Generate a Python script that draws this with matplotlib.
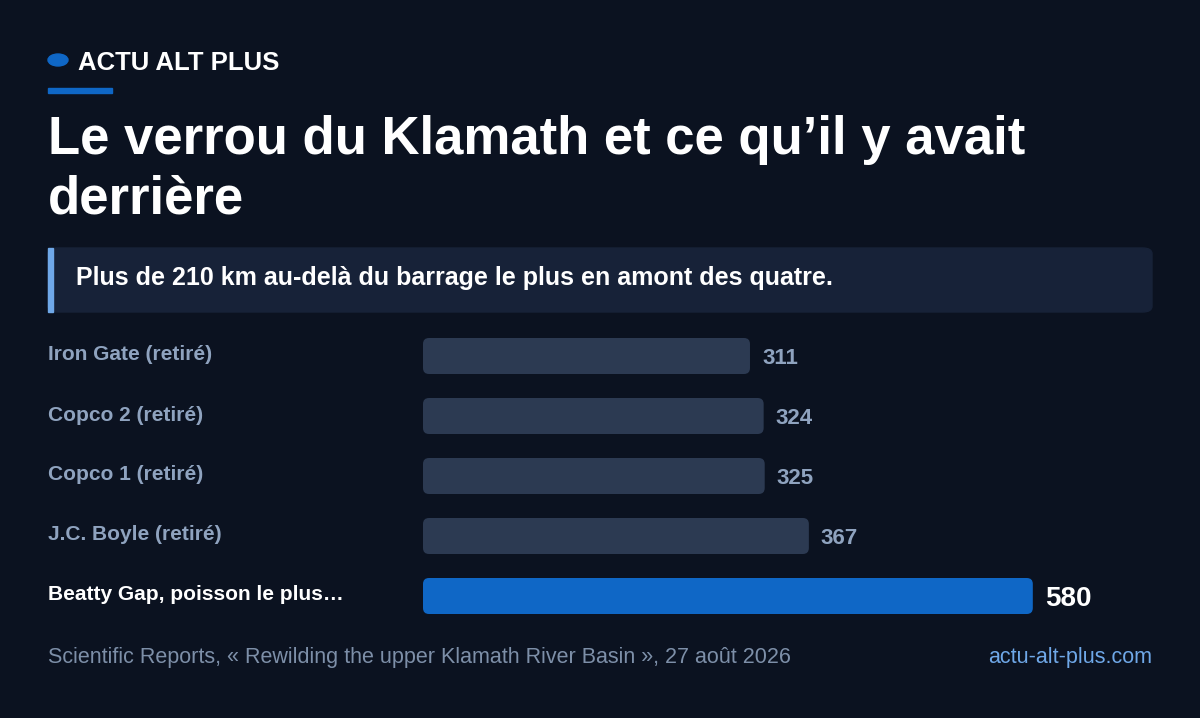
import matplotlib
matplotlib.use("Agg")
import matplotlib.pyplot as plt
from matplotlib.patches import FancyBboxPatch, Rectangle, Circle

plt.rcParams['font.family'] = ['Liberation Sans', 'DejaVu Sans']

labels = ["Iron Gate (retiré)", "Copco 2 (retiré)", "Copco 1 (retiré)",
          "J.C. Boyle (retiré)", "Beatty Gap, poisson le plus\u2026"]
values = [311, 324, 325, 367, 580]
highlight = [False, False, False, False, True]

W, H = 1200, 718
BG = "#0b1220"
fig = plt.figure(figsize=(W / 100, H / 100), dpi=100, facecolor=BG)

def fx(px):
    return px / W

def fy(py):
    return 1 - py / H

# header
fig.patches.append(Circle((fx(58), fy(60)), 10 / W, transform=fig.transFigure,
                          color="#0f67c6"))
fig.patches[-1].set_transform(fig.transFigure)
fig.text(fx(78), fy(63), "ACTU ALT PLUS", color="white", fontsize=18.5,
         fontweight="bold", va="center")
fig.patches.append(Rectangle((fx(48), fy(93)), 64 / W, 5 / H,
                             transform=fig.transFigure, color="#0f67c6"))
fig.text(fx(48), fy(140), "Le verrou du Klamath et ce qu\u2019il y avait",
         color="white", fontsize=38, fontweight="bold", va="center")
fig.text(fx(48), fy(199), "derrière", color="white", fontsize=38,
         fontweight="bold", va="center")

# subtitle box
fig.patches.append(FancyBboxPatch((fx(48), fy(312)), 1104 / W, 64 / H,
                                  boxstyle="round,pad=0,rounding_size=0.008",
                                  transform=fig.transFigure, color="#172238"))
fig.patches.append(Rectangle((fx(48), fy(312)), 5 / W, 64 / H,
                             transform=fig.transFigure, color="#6fa8e8"))
fig.text(fx(76), fy(278), "Plus de 210 km au-delà du barrage le plus en amont des quatre.",
         color="white", fontsize=18, fontweight="bold", va="center")

# bars
ax_l, ax_r, ax_t, ax_b = 423, 1152, 326, 626
ax = fig.add_axes([fx(ax_l), fy(ax_b), (ax_r - ax_l) / W, (ax_b - ax_t) / H])
ax.set_facecolor("none")
ax.axis("off")
xmax = (ax_r - ax_l) / 1.0514
ax.set_xlim(0, xmax)
ax.set_ylim(4.5, -0.5)
ux = xmax / (ax_r - ax_l)
uy = 1 / 60
for i, (lab, v, hl) in enumerate(zip(labels, values, highlight)):
    col = "#0f67c6" if hl else "#2c3a52"
    ax.add_patch(FancyBboxPatch((0, i - 0.3), v, 0.6,
                                boxstyle="round,pad=0,rounding_size=%f" % (6 * ux),
                                mutation_aspect=uy / ux, color=col, lw=0))
    ax.text(v + 12 * ux, i + 0.05, str(v), va="center",
            color="white" if hl else "#8fa3bf", fontweight="bold",
            fontsize=20 if hl else 16)
    fig.text(fx(48), fy(ax_t + 30 + 60 * i - 1), lab, va="center",
             color="white" if hl else "#8fa3bf", fontweight="bold", fontsize=15)

# footer
fig.text(fx(48), fy(658), "Scientific Reports, \u00ab Rewilding the upper Klamath River Basin \u00bb, 27 août 2026",
         color="#7d8fa8", fontsize=15.5, va="center")
fig.text(fx(1152), fy(658), "actu-alt-plus.com", color="#6fa8e8", fontsize=15.5,
         va="center", ha="right")

fig.savefig("out.png", dpi=100, facecolor=BG)
